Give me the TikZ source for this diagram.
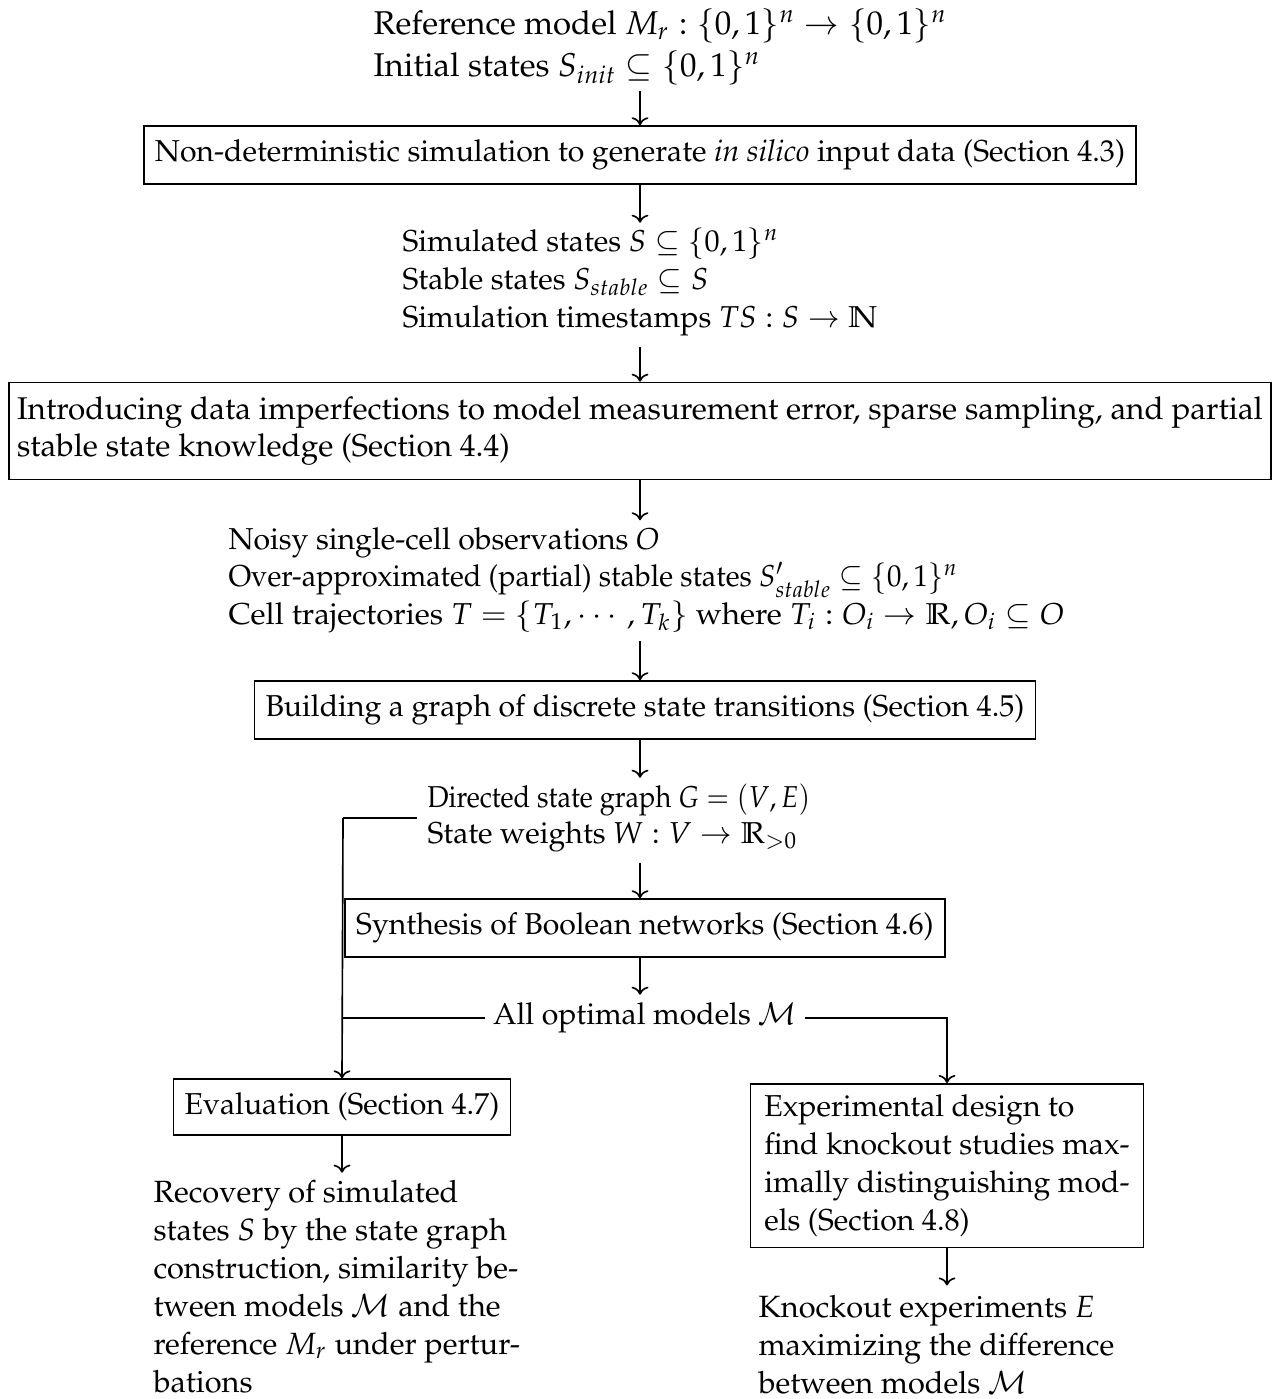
\documentclass[tikz,border=0pt]{standalone}
\usepackage[T1]{fontenc}
\usepackage{mathpazo}
\usepackage{amsmath}
\usepackage{graphicx}
\usetikzlibrary{arrows.meta,calc}

\tikzset{
  every node/.style={font=\fontsize{11}{13.8}\selectfont},
  stepbox/.style={draw,line width=0.6pt,inner xsep=4pt,inner ysep=5pt},
  datatext/.style={align=left,inner sep=0pt,anchor=west},
  flow/.style={->,line width=0.6pt},
  link/.style={line width=0.6pt}
}

\begin{document}
\begin{tikzpicture}[x=0.0128cm,y=-0.0128cm]
  \useasboundingbox (0,0) rectangle (1280,1399);
  % inputs and steps down the middle
  \node[datatext,font=\fontsize{12}{15.4}\selectfont] (refdata) at (373,47) {Reference model $M_r : \{0,1\}^n \rightarrow \{0,1\}^n$\\
    Initial states $S_{init} \subseteq \{0,1\}^n$};
  \node[stepbox] (simbox) at (640,155) {Non-deterministic simulation to generate \emph{in silico} input data (Section 4.3)};
  \node[datatext] (simdata) at (402,282) {Simulated states $S \subseteq \{0,1\}^n$\\
    Stable states $S_{stable} \subseteq S$\\
    Simulation timestamps $TS : S \rightarrow \mathbb{N}$};
  \node[stepbox,align=left,inner xsep=3pt,font=\fontsize{11.45}{13.8}\selectfont] (imperfbox) at (640,431) {Introducing data imperfections to model measurement error, sparse sampling, and partial\\
    stable state knowledge (Section 4.4)};
  \node[datatext,font=\fontsize{11}{13.6}\selectfont] (obsdata) at (228,580) {Noisy single-cell observations $O$\\
    \scalebox{0.955}[1]{Over-approximated (partial) stable states $S'_{stable} \subseteq \{0,1\}^n$}\\
    \scalebox{1.036}[1]{Cell trajectories $T = \left\{T_1, \cdots, T_k\right\}$ where $T_i : O_i \rightarrow \mathbb{R}, O_i \subseteq O$}};
  \node[stepbox] (graphbox) at (645,710) {Building a graph of discrete state transitions (Section 4.5)};
  \node[datatext,font=\fontsize{11}{13.2}\selectfont] (graphdata) at (427,818) {\scalebox{0.9}[1]{Directed state graph $G = (V, E)$}\\
    State weights $W : V \rightarrow \mathbb{R}_{>0}$};
  \node[stepbox] (synthbox) at (645,928) {Synthesis of Boolean networks (Section 4.6)};
  \node[inner sep=0pt] (models) at (645,1018) {All optimal models $\mathcal{M}$};
  % the two branches
  \node[stepbox] (evalbox) at (342,1107) {Evaluation (Section 4.7)};
  \node[stepbox,align=left,anchor=north,inner xsep=5pt,inner ysep=4pt] (designbox) at (947,1083) {Experimental design to\\
    find knockout studies max-\\imally distinguishing mod-\\els (Section 4.8)};
  \node[datatext,anchor=north west,font=\fontsize{11.2}{13.8}\selectfont] (evalres) at (153,1180) {Recovery of simulated\\
    states $S$ by the state graph\\ construction, similarity be-\\tween models $\mathcal{M}$ and the\\
    reference $M_r$ under pertur-\\bations};
  \node[datatext,anchor=north west,font=\fontsize{11.2}{13.8}\selectfont] (kores) at (758,1295) {Knockout experiments $E$\\
    maximizing the difference\\ between models $\mathcal{M}$};
  \coordinate (lcorner) at (343,818);
  \coordinate (rcorner) at (947,1018);
  \draw[flow] (refdata.south -| simbox.north) ++(0,5) -- (simbox.north);
  \draw[flow] (simbox.south) -- ++(0,38);
  \draw[flow] (simdata.south -| imperfbox.north) ++(0,10) -- (imperfbox.north);
  \draw[flow] (imperfbox.south) -- ++(0,40);
  \draw[flow] (obsdata.south -| 640,0) ++(0,8) -- (graphbox.north -| 640,0);
  \draw[flow] (graphbox.south -| 640,0) -- ++(0,38);
  \draw[flow] (graphdata.south -| 640,0) ++(0,10) -- (synthbox.north -| 640,0);
  \draw[flow] (synthbox.south -| 640,0) -- ++(0,37);
  \draw[link] (graphdata.west) ++(-10,0) -- (lcorner);
  \draw[flow] (lcorner) -- (evalbox.north);
  \draw[link] (models.west) ++(-8,0) -- (lcorner |- models);
  \draw[flow] (models.east) ++(8,0) -- (rcorner) -- (designbox.north);
  \draw[flow] (evalbox.south) -- ++(0,37);
  \draw[flow] (designbox.south) -- ++(0,37);
\end{tikzpicture}
\end{document}
